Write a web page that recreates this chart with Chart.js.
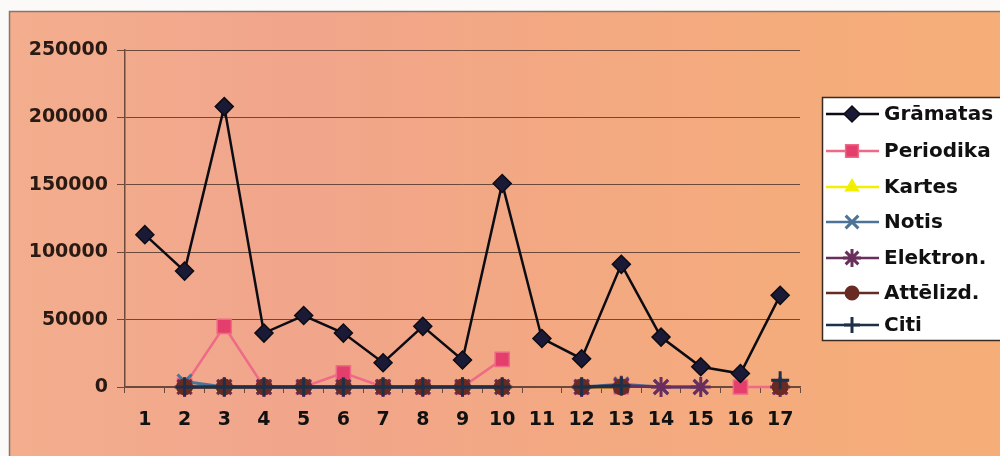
<!DOCTYPE html>
<html>
<head>
<meta charset="utf-8">
<script src="https://cdn.jsdelivr.net/npm/chart.js@4/dist/chart.umd.min.js"></script>
<style>
  html, body { margin: 0; padding: 0; background: #fff; }
  #wrap { width: 1000px; height: 456px; }
</style>
</head>
<body>
<div id="wrap"><canvas id="chart" width="1000" height="456"></canvas></div>
<script>
// category labels (x axis)
const labels = ['1', '2', '3', '4', '5', '6', '7', '8', '9', '10', '11', '12', '13', '14', '15', '16', '17'];
const yTicks = [0, 50000, 100000, 150000, 200000, 250000];

// series values
const gramatas  = [113000, 86000, 208000, 40000, 53000, 40000, 18000, 45000, 20000, 151000, 36000, 21000, 91000, 37000, 15000, 10000, 68000];
const periodika = [null, 1000, 45000, 0, 0, 10500, 0, 0, 0, 20500, null, 0, 0, null, null, 0, 0];
const kartes    = [null, 0, 0, 0, 0, 0, 0, 0, 0, 0, null, 0, 0, null, null, null, 0];
const notis     = [null, 4000, 0, 0, 0, 0, 0, 0, 0, 0, null, 0, 2000, 0, 0, null, 0];
const elektron  = [null, 0, 0, 0, 0, 0, 0, 0, 0, 0, null, 0, 1000, 0, 0, null, 0];
const attelizd  = [null, 0, 0, 0, 0, 0, 0, 0, 0, 0, null, 0, 0, null, null, null, 0];
const citi      = [null, 0, 0, 0, 0, 0, 0, 0, 0, 0, null, 0, 1000, null, null, null, 5000];

const FONT = "'DejaVu Sans', sans-serif";
const AXIS = '#6b4a3c';

function series(label, data, color, fill, style, radius, width, order) {
    return {
        label: label,
        data: data,
        borderColor: color,
        backgroundColor: fill,
        borderWidth: width,
        pointStyle: style,
        pointRadius: radius,
        pointBorderColor: color,
        pointBackgroundColor: fill,
        pointBorderWidth: style === 'rectRot' || style === 'rect' ? 1.5 : 3,
        tension: 0,
        spanGaps: false,
        clip: 12,
        order: order
    };
}

// page background: white edge, then the orange frame
const framePlugin = {
    id: 'frame',
    beforeDraw(chart) {
        const ctx = chart.ctx;
        ctx.save();
        ctx.fillStyle = '#fbfaf8';
        ctx.fillRect(0, 0, chart.width, chart.height);
        const g = ctx.createLinearGradient(9, 0, 1000, 0);
        g.addColorStop(0, '#f3ae8e');
        g.addColorStop(0.3, '#f1a58b');
        g.addColorStop(0.65, '#f4aa7f');
        g.addColorStop(1, '#f6ae78');
        ctx.fillStyle = g;
        ctx.fillRect(9, 11, chart.width - 9, chart.height - 11);
        ctx.strokeStyle = '#8c7468';
        ctx.lineWidth = 1.5;
        ctx.beginPath();
        ctx.moveTo(9.5, chart.height);
        ctx.lineTo(9.5, 11.5);
        ctx.lineTo(chart.width, 11.5);
        ctx.stroke();
        ctx.restore();
    }
};

// legend drawn like the spreadsheet one: line segment with marker
const legendPlugin = {
    id: 'lineLegend',
    afterDraw(chart) {
        const ctx = chart.ctx;
        const box = { x: 822, y: 97, w: 178, h: 243 };
        ctx.save();
        ctx.fillStyle = '#ffffff';
        ctx.fillRect(box.x, box.y, box.w, box.h);
        ctx.strokeStyle = '#3a2a22';
        ctx.lineWidth = 1.5;
        ctx.strokeRect(box.x + 0.5, box.y + 0.5, box.w + 5, box.h);
        const rows = [114, 151, 187, 222, 258, 293, 325];
        chart.data.datasets.forEach((ds, i) => {
            const y = rows[i];
            ctx.strokeStyle = ds.borderColor;
            ctx.lineWidth = 2.5;
            ctx.beginPath();
            ctx.moveTo(826, y);
            ctx.lineTo(879, y);
            ctx.stroke();
            ctx.fillStyle = ds.pointBackgroundColor;
            ctx.strokeStyle = ds.pointBorderColor;
            ctx.lineWidth = ds.pointBorderWidth;
            Chart.helpers.drawPoint(ctx, {
                pointStyle: ds.pointStyle,
                radius: ds.pointRadius - 1,
                rotation: 0,
                borderWidth: ds.pointBorderWidth
            }, 852, y);
            ctx.fillStyle = '#111';
            ctx.font = 'bold 20px ' + FONT;
            ctx.textBaseline = 'middle';
            ctx.textAlign = 'left';
            ctx.fillText(ds.label, 884, y + 1);
        });
        ctx.restore();
    }
};

const ctx = document.getElementById('chart').getContext('2d');
new Chart(ctx, {
    type: 'line',
    data: {
        labels: labels,
        datasets: [
            series('Grāmatas', gramatas, '#0c0c14', '#1a1a36', 'rectRot', 9, 2.5, 0),
            series('Periodika', periodika, '#ee6a86', '#e43f6c', 'rect', 10, 2.5, 6),
            series('Kartes', kartes, '#f2f000', '#eeea00', 'triangle', 7, 3, 5),
            series('Notis', notis, '#4d7396', '#4d7396', 'crossRot', 10, 3, 4),
            series('Elektron.', elektron, '#6a2e5c', '#6a2e5c', 'star', 10, 3, 3),
            series('Attēlizd.', attelizd, '#6a2a24', '#6a2a24', 'circle', 7, 3, 2),
            series('Citi', citi, '#1e3048', '#1e3048', 'cross', 9, 3, 1)
        ]
    },
    options: {
        responsive: false,
        animation: false,
        devicePixelRatio: 1,
        layout: { padding: { left: 0, top: 50, right: 200, bottom: 0 } },
        plugins: {
            legend: { display: false },
            tooltip: { enabled: false }
        },
        scales: {
            x: {
                offset: true,
                grid: {
                    offset: true,
                    drawOnChartArea: false,
                    color: AXIS,
                    tickLength: 6,
                    lineWidth: 1
                },
                border: { color: AXIS, width: 1.5 },
                ticks: {
                    color: '#111',
                    font: { family: FONT, size: 19, weight: 'bold' },
                    padding: 16,
                    maxRotation: 0,
                    autoSkip: false
                },
                afterFit(scale) { scale.height = 69; }
            },
            y: {
                min: 0,
                max: 250000,
                afterBuildTicks(scale) {
                    scale.ticks = yTicks.map(v => ({ value: v }));
                },
                grid: {
                    color: AXIS,
                    lineWidth: 1,
                    tickLength: 8
                },
                border: { color: AXIS, width: 1.5 },
                ticks: {
                    color: '#2a1a14',
                    font: { family: FONT, size: 19, weight: 'bold' },
                    padding: 9,
                    callback: v => String(v)
                },
                afterFit(scale) { scale.width = 125; }
            }
        }
    },
    plugins: [framePlugin, legendPlugin]
});
</script>
</body>
</html>
